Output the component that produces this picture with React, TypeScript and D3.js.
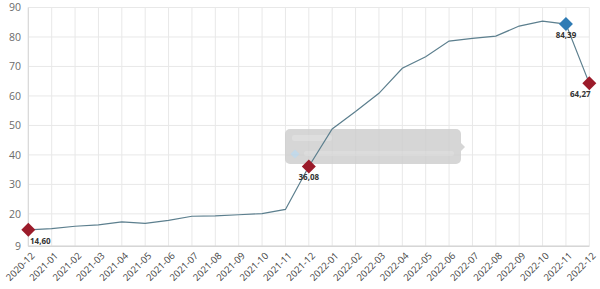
import React from "react";
import * as d3 from "d3";

const months = [
  "2020-12","2021-01","2021-02","2021-03","2021-04","2021-05","2021-06","2021-07","2021-08","2021-09","2021-10","2021-11","2021-12",
  "2022-01","2022-02","2022-03","2022-04","2022-05","2022-06","2022-07","2022-08","2022-09","2022-10","2022-11","2022-12",
];
const values = [
  14.6, 15.0, 15.8, 16.3, 17.3, 16.8, 17.8, 19.2, 19.3, 19.7, 20.1, 21.5, 36.08,
  48.8, 54.7, 60.9, 69.4, 73.3, 78.6, 79.5, 80.3, 83.7, 85.4, 84.39, 64.27,
];
const yTicks = [9, 20, 30, 40, 50, 60, 70, 80, 90];
// highlighted points: index, colour, label offset
const markers = [
  { i: 0, color: "#9b1b2a", dx: 12 },
  { i: 12, color: "#9b1b2a", dx: 0 },
  { i: 23, color: "#2f7bb4", dx: 0 },
  { i: 24, color: "#9b1b2a", dx: -9 },
];

const W = 600, H = 289;
const left = 28.3, right = 589.3, top = 7.5, bottom = 246.3;

export default function App() {
  const x = d3.scalePoint<string>().domain(months).range([left, right]);
  const y = d3.scaleLinear().domain([9, 90]).range([bottom, top]);
  const line = d3.line<number>().x((_, i) => x(months[i])!).y((d) => y(d));
  const fmt = (v: number) => v.toFixed(2).replace(".", ",");
  const diamond = (cx: number, cy: number, r: number) =>
    `M${cx},${cy - r}L${cx + r},${cy}L${cx},${cy + r}L${cx - r},${cy}Z`;
  const font = "'Open Sans', 'Noto Sans', sans-serif";

  return (
    <svg width={W} height={H} style={{ position: "absolute", left: 0, top: 0 }} fontFamily={font}>
      <rect width={W} height={H} fill="#fff" />
      {/* grid */}
      {yTicks.map((t) => (
        <line key={"gy" + t} x1={left} x2={right} y1={y(t)} y2={y(t)} stroke="#e8e8e8" strokeWidth={1} />
      ))}
      {months.map((m) => (
        <line key={"gx" + m} x1={x(m)} x2={x(m)} y1={top} y2={bottom} stroke="#e8e8e8" strokeWidth={1} />
      ))}
      {/* axes */}
      <line x1={left} x2={left} y1={top} y2={bottom} stroke="#d6d6d6" />
      <line x1={left} x2={right} y1={bottom} y2={bottom} stroke="#d6d6d6" strokeWidth={1.5} />
      {yTicks.map((t) => (
        <text key={"ty" + t} x={21} y={y(t)} dy="0.35em" textAnchor="end" fontSize={10.5} fill="#6b6b6b">
          {t}
        </text>
      ))}
      {months.map((m) => (
        <text
          key={"tx" + m}
          transform={`translate(${x(m)! + 7},${bottom + 10}) rotate(-45)`}
          textAnchor="end"
          fontSize={9.5}
          fill="#444"
        >
          {m}
        </text>
      ))}
      {/* tooltip (faded) */}
      <g opacity={0.85}>
        <rect x={285} y={129} width={176} height={35} rx={5} fill="#cfcfcf" />
        <path d="M461,143L465,147L461,151Z" fill="#cfcfcf" />
        <rect x={292} y={135} width={40} height={6} rx={2} fill="#d9d9d9" />
        <path d={diamond(295, 154, 4.5)} fill="#b9d3e6" />
        <rect x={304} y={151} width={150} height={5} rx={2} fill="#d6d6d6" />
      </g>
      {/* line */}
      <path d={line(values)!} fill="none" stroke="#5c7f8e" strokeWidth={1.2} />
      {markers.map((mk) => {
        const cx = x(months[mk.i])!;
        const cy = y(values[mk.i]);
        return (
          <g key={"mk" + mk.i}>
            <path d={diamond(cx, cy, 7)} fill={mk.color} />
            <text x={cx + mk.dx} y={cy + 14} textAnchor="middle" fontSize={8} fontWeight="bold" fill="#333">
              {fmt(values[mk.i])}
            </text>
          </g>
        );
      })}
    </svg>
  );
}
